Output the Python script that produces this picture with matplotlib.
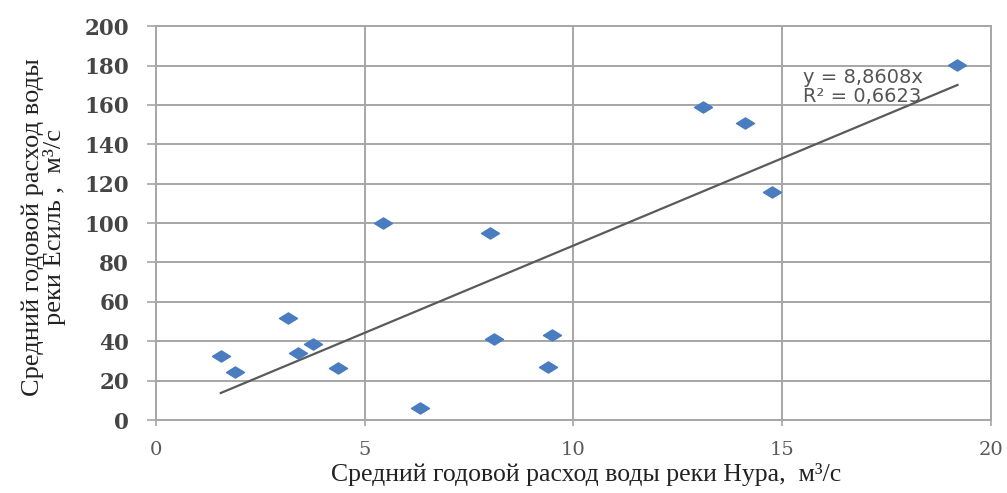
import numpy as np
import matplotlib
matplotlib.use("Agg")
import matplotlib.pyplot as plt
from matplotlib.path import Path

# --- data ---
# mean annual discharge of the Nura river, m3/s
nura_flow = [1.55, 1.9, 3.17, 3.4, 3.77, 4.37, 5.44, 6.33, 8.0, 8.1,
             9.38, 9.49, 13.1, 14.1, 14.75, 19.2]
# mean annual discharge of the Esil river, m3/s
esil_flow = [32.4, 24.3, 52, 34, 38.8, 26.5, 100, 6, 95, 41,
             27, 43, 159, 151, 116, 180.5]
# linear trend through the origin, as printed on the chart
SLOPE = 8.8608
R2 = 0.6623

x_ticks = [0, 5, 10, 15, 20]
y_ticks = [0, 20, 40, 60, 80, 100, 120, 140, 160, 180, 200]

x_label = "Средний годовой расход воды реки Нура,  м³/с"
y_label = "Средний годовой расход воды\nреки Есиль ,  м³/с"

GRID = "#a6a6a6"
BLUE = "#4a7cc0"

# flat diamond marker (wider than tall)
flat_diamond = Path([(-1, 0), (0, 0.62), (1, 0), (0, -0.62), (-1, 0)],
                    [Path.MOVETO, Path.LINETO, Path.LINETO, Path.LINETO, Path.CLOSEPOLY])

fig = plt.figure(figsize=(10.07, 4.93), dpi=100)
ax = fig.add_axes([0.155, 0.148, 0.829, 0.799])

ax.set_xlim(0, 20)
ax.set_ylim(0, 200)
ax.set_xticks(x_ticks)
ax.set_yticks(y_ticks)
ax.grid(True, color=GRID, linewidth=1.4)
ax.set_axisbelow(True)
for side in ax.spines.values():
    side.set_color(GRID)
    side.set_linewidth(1.4)

ax.tick_params(axis="y", colors=GRID, length=6.5, width=1.2, pad=13)
ax.tick_params(axis="x", colors=GRID, length=4, width=1.2, pad=11)
for lbl in ax.get_yticklabels():
    lbl.set_fontfamily("DejaVu Serif")
    lbl.set_fontweight("bold")
    lbl.set_fontsize(15.5)
    lbl.set_color("#454545")
for lbl in ax.get_xticklabels():
    lbl.set_fontfamily("DejaVu Serif")
    lbl.set_fontsize(14)
    lbl.set_color("#5a5a5a")

# trend line over the data span
xs = np.array([min(nura_flow), max(nura_flow)])
ax.plot(xs, SLOPE * xs, color="#5a5a5a", linewidth=1.6, zorder=2)

ax.plot(nura_flow, esil_flow, linestyle="none", marker=flat_diamond,
        markersize=13, color=BLUE, markeredgecolor=BLUE, zorder=3)

eq = f"y = {SLOPE:.4f}x\nR² = {R2:.4f}".replace(".", ",")
ax.text(15.5, 178.5, eq, fontsize=14, color="#555555", family="DejaVu Sans",
        va="top", ha="left", linespacing=0.95, zorder=4)

fig.text(0.582, 0.037, x_label, ha="center", va="center",
         fontsize=18.5, family="Liberation Serif", color="#222222")
fig.text(0.043, 0.54, y_label, ha="center", va="center", rotation=90,
         fontsize=19, family="Liberation Serif", color="#222222", linespacing=0.95)

fig.savefig("out.png", dpi=100, facecolor="white")
